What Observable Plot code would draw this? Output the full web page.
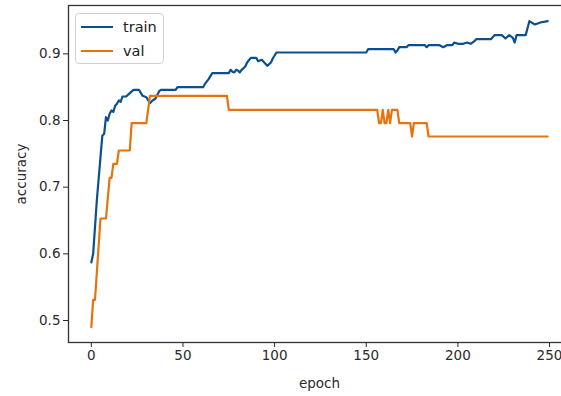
<!DOCTYPE html>
<html>
<head>
<meta charset="utf-8">
<script src="https://cdn.jsdelivr.net/npm/d3@7"></script>
<script src="https://cdn.jsdelivr.net/npm/@observablehq/plot@0.6"></script>
<style>
  html, body { margin: 0; padding: 0; background: #fff; overflow: hidden; }
  #wrap { position: relative; width: 561px; height: 396px; overflow: hidden; }
  #chart svg { max-width: none !important; }
  #legend { position: absolute; left: 75px; top: 13px; width: 87px; height: 49px;
    border: 1px solid #d0d0d0; border-radius: 4px; background: rgba(255,255,255,0.8);
    font-family: "DejaVu Sans", sans-serif; font-size: 14.5px; color: #222; }
  .row { position: absolute; left: 5px; height: 20px; display: flex; align-items: center; }
  .sw { width: 32px; height: 2.2px; margin-right: 10px; }
</style>
</head>
<body>
<div id="wrap">
  <div id="chart"></div>
  <div id="legend"></div>
</div>
<script>
const seriesNames = ["train", "val"];
const seriesColors = ["#0b4f8f", "#e8730c"];

const trainEpoch = [0,1,3,5,6,7,8,9,10,11,12,13,14,15,16,17,19,21,23,26,28,30,32,33,35,37,38,46,47,61,62,64,66,75,76,77,78,79,80,81,82,84,85,87,90,91,93,95,96,98,99,101,150,151,165,166,167,168,172,173,182,183,184,190,192,194,197,198,200,203,205,207,209,210,218,220,224,226,228,230,231,232,237,239,242,245,249];
const trainAcc   = [0.587,0.600,0.680,0.745,0.777,0.780,0.805,0.800,0.810,0.815,0.813,0.822,0.825,0.830,0.828,0.836,0.836,0.841,0.846,0.846,0.837,0.835,0.826,0.829,0.833,0.844,0.846,0.846,0.850,0.850,0.855,0.862,0.871,0.871,0.876,0.873,0.872,0.876,0.875,0.872,0.876,0.881,0.887,0.894,0.894,0.889,0.891,0.885,0.882,0.887,0.893,0.902,0.902,0.907,0.907,0.902,0.905,0.910,0.910,0.913,0.913,0.910,0.913,0.913,0.910,0.913,0.913,0.917,0.915,0.915,0.917,0.915,0.919,0.922,0.922,0.928,0.928,0.923,0.928,0.924,0.917,0.928,0.928,0.949,0.944,0.947,0.949];

const valEpoch = [0,1,2,5,8,10,11,12,14,15,21,22,30,32,74,75,156,157,158,159,160,161,162,163,164,167,168,173,174,175,176,183,184,249];
const valAcc   = [0.490,0.531,0.531,0.653,0.653,0.714,0.714,0.735,0.735,0.755,0.755,0.796,0.796,0.837,0.837,0.816,0.816,0.796,0.796,0.816,0.796,0.796,0.816,0.796,0.816,0.816,0.796,0.796,0.796,0.776,0.796,0.796,0.776,0.776];

const xTicks = [0, 50, 100, 150, 200, 250];
const yTicks = [0.5, 0.6, 0.7, 0.8, 0.9];

const trainRows = trainEpoch.map((e, i) => ({epoch: e, acc: trainAcc[i]}));
const valRows = valEpoch.map((e, i) => ({epoch: e, acc: valAcc[i]}));

const chart = Plot.plot({
  width: 571,
  height: 396,
  marginLeft: 68,
  marginRight: 1,
  marginTop: 5,
  marginBottom: 54,
  style: {fontFamily: "DejaVu Sans, sans-serif", fontSize: "13px", color: "#2a2a2a", background: "white", overflow: "visible", maxWidth: "none"},
  x: {domain: [-12.45, 261.45]},
  y: {domain: [0.467, 0.9725]},
  marks: [
    Plot.lineY(trainRows, {x: "epoch", y: "acc", stroke: seriesColors[0], strokeWidth: 2.2}),
    Plot.lineY(valRows, {x: "epoch", y: "acc", stroke: seriesColors[1], strokeWidth: 2.2}),
    Plot.frame({stroke: "#333", strokeWidth: 1.3}),
    Plot.axisX({ticks: xTicks, tickSize: 5, tickPadding: 3, label: "epoch", labelAnchor: "center", labelArrow: "none", labelOffset: 45, fontSize: 13.5}),
    Plot.axisY({ticks: yTicks, tickFormat: d3.format(".1f"), tickSize: 5, tickPadding: 3, label: "accuracy", labelAnchor: "center", labelArrow: "none", labelOffset: 52, fontSize: 13.5})
  ]
});
document.getElementById("chart").appendChild(chart);

const legend = document.getElementById("legend");
seriesNames.forEach((name, i) => {
  const row = document.createElement("div");
  row.className = "row";
  row.style.top = (3 + i * 24) + "px";
  const sw = document.createElement("div");
  sw.className = "sw";
  sw.style.background = seriesColors[i];
  const t = document.createElement("span");
  t.textContent = name;
  row.appendChild(sw);
  row.appendChild(t);
  legend.appendChild(row);
});
</script>
</body>
</html>
